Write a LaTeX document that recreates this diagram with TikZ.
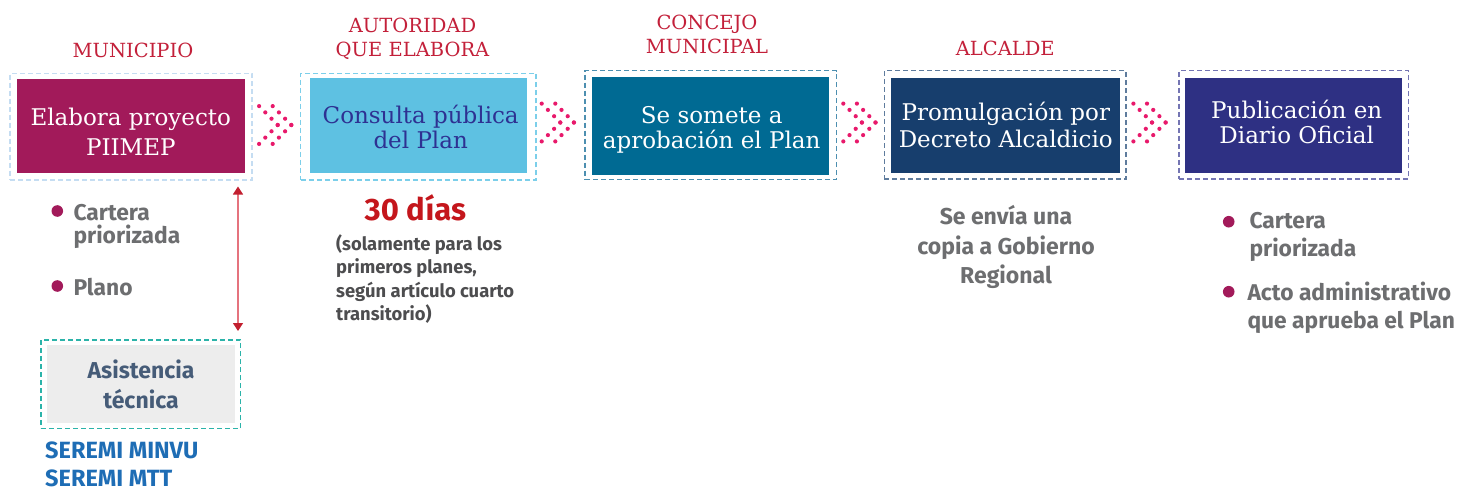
\documentclass[tikz,border=0pt]{standalone}
\usepackage{fontspec}
\setmainfont{DejaVu Serif}
\setsansfont{Fira Sans}
\usetikzlibrary{arrows.meta}
\definecolor{maroon}{HTML}{A21A5A}
\definecolor{hdrred}{HTML}{C3203A}
\definecolor{dotpink}{HTML}{E8196B}
\definecolor{cyanfill}{HTML}{5EC1E2}
\definecolor{cyantext}{HTML}{2E3192}
\definecolor{tealfill}{HTML}{006A93}
\definecolor{navyfill}{HTML}{173E6D}
\definecolor{indigofill}{HTML}{2E3083}
\definecolor{dash1}{HTML}{C5DDF2}
\definecolor{dash2}{HTML}{7CCFEA}
\definecolor{dash3}{HTML}{4D8FB0}
\definecolor{dash4}{HTML}{5F7C9D}
\definecolor{dash5}{HTML}{7475B3}
\definecolor{dashteal}{HTML}{2BB3A9}
\definecolor{grayfill}{HTML}{EDEDED}
\definecolor{slate}{HTML}{465C78}
\definecolor{seremi}{HTML}{1E6DB5}
\definecolor{graytxt}{HTML}{6D6E70}
\definecolor{darkgraytxt}{HTML}{4D4D4F}
\definecolor{diasred}{HTML}{C4161C}
\definecolor{arrline}{HTML}{E5737E}
\definecolor{arrtip}{HTML}{C21F2F}
\begin{document}
\begin{tikzpicture}[x=1pt,y=-1pt,
  fillbox/.style={rectangle,inner sep=0pt,draw=none},
  outerbox/.style={rectangle,inner sep=0pt,draw,line width=1.2pt,dash pattern=on 5pt off 3pt},
  hdr/.style={font=\fontsize{19.5}{24.2}\selectfont,text=hdrred,align=center,anchor=base},
  boxtxt/.style={align=center,anchor=base,inner sep=0pt},
  gtxt/.style={font=\sffamily\bfseries\fontsize{22.8}{23.5}\selectfont,text=graytxt,align=left,anchor=base west,inner sep=0pt},
  dotchev/.pic={
    \foreach \k in {0,1,2,3}{
      \foreach \o in {0,13.6}{
        \fill[dotpink] ({\o-(3-\k)*6.2},{-(3-\k)*6.3}) circle (2.1);
        \fill[dotpink] ({\o-(3-\k)*6.2},{(3-\k)*6.3}) circle (2.1);
      }
    }
  }
]
\useasboundingbox[fill=white] (0,0) rectangle (1466,491);

% outer dashed frames
\node[outerbox,draw=dash1,minimum width=242pt,minimum height=106.7pt] (b1o) at (131,126.6) {};
\node[outerbox,draw=dash2,minimum width=235.3pt,minimum height=106.7pt] (b2o) at (418.4,126.6) {};
\node[outerbox,draw=dash3,minimum width=251.7pt,minimum height=108.6pt] (b3o) at (710.9,125) {};
\node[outerbox,draw=dash4,minimum width=241.7pt,minimum height=108.3pt] (b4o) at (1005.2,124.9) {};
\node[outerbox,draw=dash5,minimum width=229.3pt,minimum height=108.3pt] (b5o) at (1293.7,124.9) {};

% filled boxes
\node[fillbox,fill=maroon,minimum width=228pt,minimum height=94pt] (b1) at (131,126) {};
\node[fillbox,fill=cyanfill,minimum width=217pt,minimum height=94.4pt] (b2) at (418.5,125.5) {};
\node[fillbox,fill=tealfill,minimum width=237pt,minimum height=98pt] (b3) at (710.5,125.7) {};
\node[fillbox,fill=navyfill,minimum width=228.7pt,minimum height=94.4pt] (b4) at (1005.3,125.5) {};
\node[fillbox,fill=indigofill,minimum width=217pt,minimum height=94.4pt] (b5) at (1293.5,125.5) {};

% box texts (anchor = baseline of last line)
\node[boxtxt,text=white,font=\fontsize{23}{30}\selectfont] (t1) at (130.8,155) {Elabora proyecto\\PIIMEP};
\node[boxtxt,text=cyantext,font=\fontsize{23}{25}\selectfont] (t2) at (420.7,148.3) {Consulta pública\\del Plan};
\node[boxtxt,text=white,font=\fontsize{23}{25}\selectfont] (t3) at (711.7,148.3) {Se somete a\\aprobación el Plan};
\node[boxtxt,text=white,font=\fontsize{23}{27.3}\selectfont] (t4) at (1005.8,147.3) {Promulgación por\\Decreto Alcaldicio};
\node[boxtxt,text=white,font=\fontsize{23}{25}\selectfont] (t5) at (1296.7,143.3) {Publicación en\\Diario Oficial};

% headers
\node[hdr] (h1) at (133,57) {MUNICIPIO};
\node[hdr] (h2) at (412.5,56.7) {AUTORIDAD\\QUE ELABORA};
\node[hdr] (h3) at (707,53.3) {CONCEJO\\MUNICIPAL};
\node[hdr] (h4) at (1005.3,55) {ALCALDE};

% dotted chevrons
\pic at (277.7,125) {dotchev};
\pic at (560.3,122.5) {dotchev};
\pic at (861.9,122.5) {dotchev};
\pic at (1152,122.5) {dotchev};

% left column
\fill[maroon] (57.3,211) circle (5.8);
\node[gtxt] (l1) at (73.3,243.5) {Cartera\\priorizada};
\fill[maroon] (57.3,286) circle (5.8);
\node[gtxt] (l2) at (73.3,295) {Plano};

\coordinate (arT) at (238,186.5);
\coordinate (arB) at (238,331);
\draw[arrline,line width=1.2pt,
  {Triangle[length=8pt,width=10pt,color=arrtip]}-{Triangle[length=8pt,width=10pt,color=arrtip]}]
  (arT) -- (arB);

\node[outerbox,draw=dashteal,minimum width=199.7pt,minimum height=88.3pt] (ao) at (140.85,384.15) {};
\node[fillbox,fill=grayfill,minimum width=188pt,minimum height=77.7pt] (asis) at (141,383.85) {};
\node[boxtxt,text=slate,font=\sffamily\bfseries\fontsize{23}{30}\selectfont] (at) at (141,408.3) {Asistencia\\técnica};
\node[gtxt,text=seremi,font=\sffamily\bfseries\fontsize{23.5}{28.3}\selectfont] (sr) at (45,486.5) {SEREMI MINVU\\SEREMI MTT};

% second column
\node[boxtxt,text=diasred,font=\sffamily\bfseries\fontsize{31}{32}\selectfont] (d30) at (415.3,220.7) {30 días};
\node[gtxt,text=darkgraytxt,font=\sffamily\bfseries\fontsize{18.4}{23.5}\selectfont] (par) at (336,320.5) {(solamente para los\\primeros planes,\\según artículo cuarto\\transitorio)};

% fourth column
\node[boxtxt,text=graytxt,font=\sffamily\bfseries\fontsize{23}{29.2}\selectfont] (env) at (1006,283.3) {Se envía una\\copia a Gobierno\\Regional};

% fifth column
\fill[maroon] (1228.7,221.7) circle (5.8);
\node[gtxt,font=\sffamily\bfseries\fontsize{22.8}{28.4}\selectfont] (r1) at (1249.3,256.7) {Cartera\\priorizada};
\fill[maroon] (1228.7,291.7) circle (5.8);
\node[gtxt,font=\sffamily\bfseries\fontsize{22.8}{27.6}\selectfont] (r2) at (1247.3,328.3) {Acto administrativo\\que aprueba el Plan};
\end{tikzpicture}
\end{document}
